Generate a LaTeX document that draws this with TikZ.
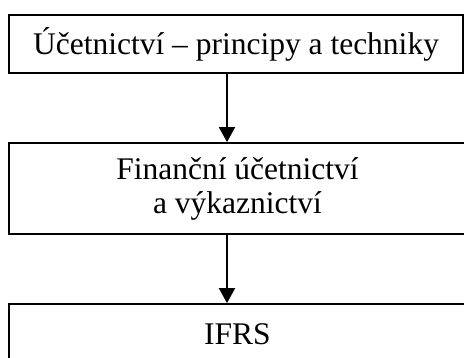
\documentclass[tikz,border=0pt]{standalone}
\usepackage{fontspec}
\setmainfont{Liberation Serif}
\usetikzlibrary{arrows.meta}
\tikzset {>={Triangle[width=16pt,length=15pt]}}

\begin{document}
\begin{tikzpicture}[x=1pt,y=-1pt,
  blok/.style={draw,line width=1.8pt,inner sep=0pt,align=center,
    font=\fontsize{31.5}{34}\selectfont}]
\useasboundingbox (0,0) rectangle (464,358);

\node[blok,minimum width=454pt,minimum height=58pt] (ucet) at (236,44)
  {Účetnictví – principy a techniky};
\node[blok,minimum width=457pt,minimum height=91pt] (fin) at (237.5,188.5)
  {Finanční účetnictví\\ a výkaznictví};
\node[blok,minimum width=457pt,minimum height=60pt] (ifrs) at (237.5,334)
  {IFRS};

\coordinate (osa) at (227,0);
\draw[->,line width=2pt] (ucet.south -| osa) -- (fin.north -| osa);
\draw[->,line width=2pt] (fin.south -| osa) -- (ifrs.north -| osa);
\end{tikzpicture}
\end{document}
